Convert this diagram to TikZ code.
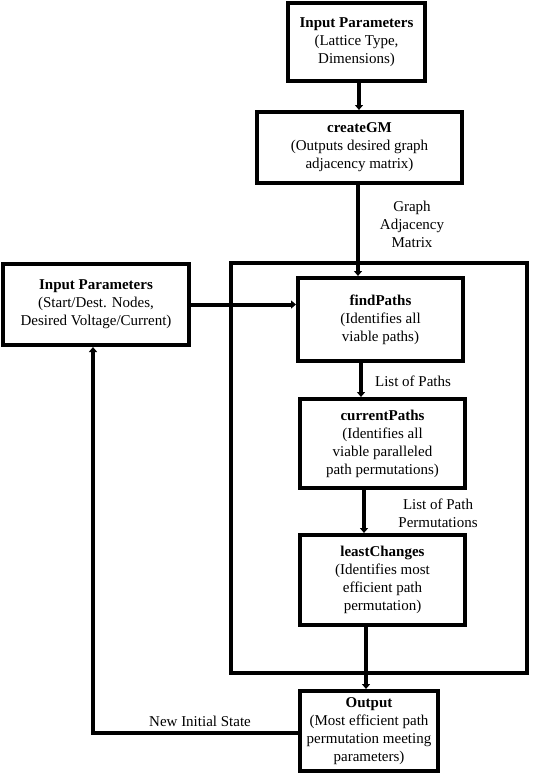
\documentclass[tikz,border=0pt]{standalone}
\usepackage{fontspec}
\setmainfont{Liberation Serif}
\usetikzlibrary{arrows.meta}
\begin{document}
\begin{tikzpicture}[x=1pt,y=-1pt,
  box/.style={draw, line width=4pt, align=center, inner sep=0pt, font=\fontsize{15}{18}\selectfont},
  lbl/.style={align=center, font=\fontsize{15}{18}\selectfont},
  arr/.style={line width=4pt, -{Triangle[length=5pt,width=8pt]}},
  thinarr/.style={line width=3.3pt, -{Triangle[length=5pt,width=8pt]}},
]
\useasboundingbox (0,0) rectangle (533,774);
\node[draw, line width=3.4pt, minimum width=296pt, minimum height=410pt, inner sep=0pt] (cont) at (379,468) {};
\node[box, minimum width=137pt, minimum height=78pt] (top) at (356.5,42)
  {\textbf{Input Parameters}\\(Lattice Type,\\Dimensions)};
\node[box, minimum width=205pt, minimum height=71pt] (gm) at (359.5,147.5)
  {\textbf{createGM}\\(Outputs desired graph\\adjacency matrix)};
\node[box, minimum width=186pt, minimum height=81pt] (in) at (96,304.5)
  {\textbf{Input Parameters}\\(Start/Dest. Nodes,\\Desired Voltage/Current)};
\node[box, minimum width=165pt, minimum height=83pt] (fp) at (380.5,319.5)
  {\textbf{findPaths}\\(Identifies all\\viable paths)};
\node[box, minimum width=165pt, minimum height=89pt] (cp) at (382.5,443.5)
  {\textbf{currentPaths}\\(Identifies all\\viable paralleled\\path permutations)};
\node[box, minimum width=165pt, minimum height=90pt] (lc) at (382.5,580)
  {\textbf{leastChanges}\\(Identifies most\\efficient path\\permutation)};
\node[box, minimum width=138pt, minimum height=80pt] (out) at (369,731)
  {\textbf{Output}\\(Most efficient path\\permutation meeting\\parameters)};

\draw[arr] ([xshift=2.5pt]top.south) -- ([xshift=2.5pt]top.south |- gm.north);
\draw[arr] ([xshift=-1.5pt]gm.south) -- ([xshift=-1.5pt]gm.south |- fp.north);
\draw[arr] (in.east) -- (in.east -| fp.west);
\draw[arr] ([xshift=-19.5pt]fp.south) -- ([xshift=-19.5pt]fp.south |- cp.north);
\draw[arr] ([xshift=-18.5pt]cp.south) -- ([xshift=-18.5pt]cp.south |- lc.north);
\draw[arr] ([xshift=-16.5pt]lc.south) -- ([xshift=-16.5pt]lc.south |- out.north);
\draw[thinarr] ([yshift=-2pt]out.west) -| ([xshift=-3pt]in.south);

\node[lbl] (l1) at (412,224) {Graph\\Adjacency\\Matrix};
\node[lbl] (l2) at (413,381) {List of Paths};
\node[lbl] (l3) at (438,513) {List of Path\\Permutations};
\node[lbl] (l4) at (200,721) {New Initial State};
\end{tikzpicture}
\end{document}
